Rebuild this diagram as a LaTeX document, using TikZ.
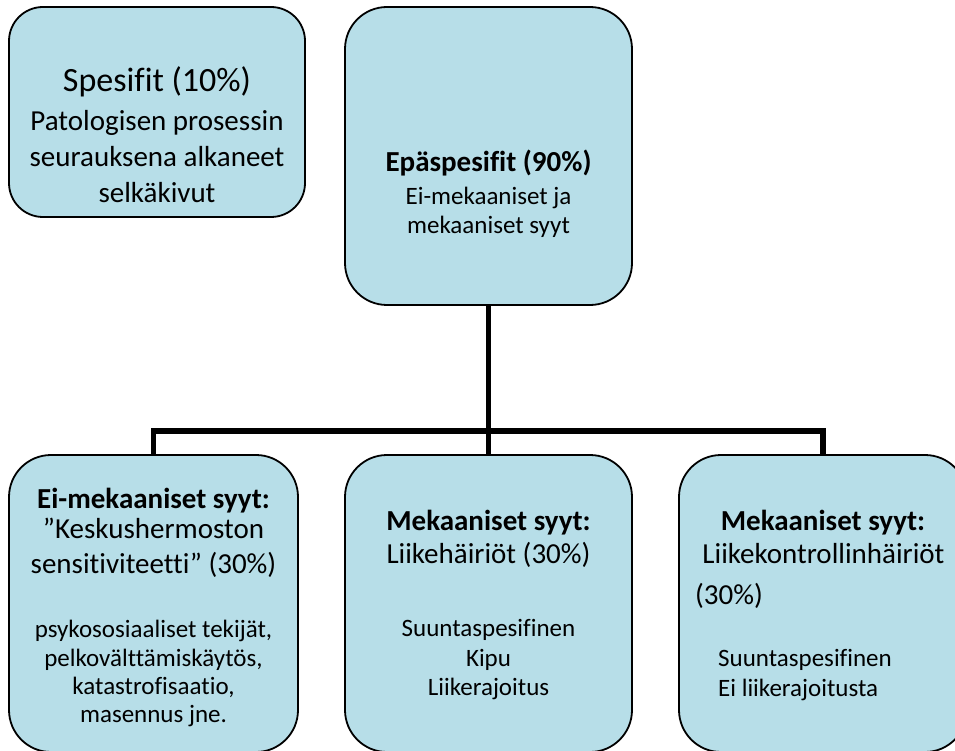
\documentclass[tikz,border=0pt]{standalone}
\usepackage{fontspec}
\setmainfont{Carlito}[Ligatures={NoCommon,NoContextual}]
\definecolor{boxfill}{HTML}{B7DEE8}
\tikzset{
  box/.style={draw=black, line width=1.8pt, fill=boxfill, inner sep=0pt, rounded corners=42pt},
  conn/.style={draw=black, line width=5.5pt, line join=miter},
  tbig/.style={font=\fontsize{34}{40}\selectfont, inner sep=0pt, text height=25.5pt, text depth=8.5pt},
  tmid/.style={font=\fontsize{29}{35}\selectfont, inner sep=0pt, text height=21.75pt, text depth=7.25pt},
  tmidb/.style={tmid, font=\fontsize{29}{35}\selectfont\bfseries},
  tsmall/.style={font=\fontsize{25}{30}\selectfont, inner sep=0pt, text height=18.75pt, text depth=6.25pt}
}
\begin{document}
\begin{tikzpicture}[x=1pt,y=-1pt]
\useasboundingbox (0,0) rectangle (955,751);
\clip (0,0) rectangle (955,751);
% boxes
\node[box, rounded corners=34pt, minimum width=296pt, minimum height=210pt] (b1) at (157,112) {};
\node[box, minimum width=287pt, minimum height=298pt] (b2) at (488.5,156) {};
\node[box, minimum width=289pt, minimum height=297pt] (b3) at (153.5,603.5) {};
\node[box, minimum width=287pt, minimum height=297pt] (b4) at (488.5,603.5) {};
\node[box, minimum width=288pt, minimum height=297pt] (b5) at (823,603.5) {};
% connectors
\coordinate (j) at (488.5,431);
\draw[conn] (b2.south) -- (j);
\draw[conn] (b3.north) |- (j) -| (b5.north);
\draw[conn] (j) -- (b4.north);
% box 1 text
\node[tbig] (b1t1) at (157,83) {Spesifit (10\%)};
\node[tmid] (b1t2) at (157,123) {Patologisen prosessin};
\node[tmid] (b1t3) at (157,159) {seurauksena alkaneet};
\node[tmid] (b1t4) at (157,195) {selkäkivut};
% box 2 text
\node[tmidb] (b2t1) at (488.5,164) {Epäspesifit (90\%)};
\node[tsmall] (b2t2) at (488.5,198) {Ei-mekaaniset ja};
\node[tsmall] (b2t3) at (488.5,227) {mekaaniset syyt};
% box 3 text
\node[tmidb] (b3t1) at (153.5,501) {Ei-mekaaniset syyt:};
\node[tmid] (b3t2) at (153.5,531) {”Keskushermoston};
\node[tmid] (b3t3) at (153.5,566) {sensitiviteetti” (30\%)};
\node[tsmall] (b3t4) at (153.5,631) {psykososiaaliset tekijät,};
\node[tsmall] (b3t5) at (153.5,660) {pelkovälttämiskäytös,};
\node[tsmall] (b3t6) at (153.5,688) {katastrofisaatio,};
\node[tsmall] (b3t7) at (153.5,716) {masennus jne.};
% box 4 text
\node[tmidb] (b4t1) at (488.5,523) {Mekaaniset syyt:};
\node[tmid] (b4t2) at (488.5,556) {Liikehäiriöt (30\%)};
\node[tsmall] (b4t3) at (488.5,630) {Suuntaspesifinen};
\node[tsmall] (b4t4) at (488.5,660) {Kipu};
\node[tsmall] (b4t5) at (488.5,689) {Liikerajoitus};
% box 5 text
\node[tmidb] (b5t1) at (823,523) {Mekaaniset syyt:};
\node[tmid] (b5t2) at (823.5,556) {Liikekontrollinhäiriöt};
\node[tmid, anchor=west] (b5t3) at (695,597) {(30\%)};
\node[tsmall, anchor=west] (b5t4) at (718,660) {Suuntaspesifinen};
\node[tsmall, anchor=west] (b5t5) at (718,690) {Ei liikerajoitusta};
\end{tikzpicture}
\end{document}
